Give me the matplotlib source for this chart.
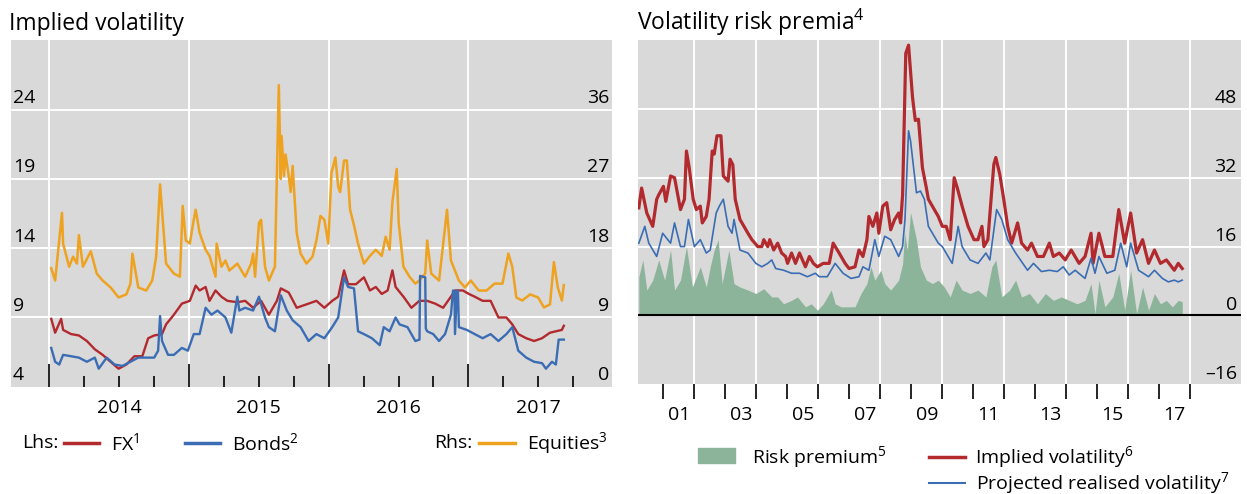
import numpy as np
import matplotlib.pyplot as plt
import matplotlib.transforms as mtransforms
from matplotlib.lines import Line2D
from matplotlib.patches import Rectangle

plt.rcParams['font.family'] = ['Open Sans', 'DejaVu Sans']
plt.rcParams['mathtext.default'] = 'regular'

# ---- left panel: implied volatility (decimal years) ----
eq_t = [2014.014, 2014.042, 2014.091, 2014.099, 2014.142, 2014.170, 2014.198, 2014.212, 2014.241,
        2014.297, 2014.340, 2014.382, 2014.439, 2014.496, 2014.552, 2014.581, 2014.595, 2014.637,
        2014.694, 2014.737, 2014.765, 2014.793, 2014.836, 2014.892, 2014.935, 2014.955, 2014.977,
        2015.006, 2015.034, 2015.048, 2015.076, 2015.119, 2015.147, 2015.190, 2015.198, 2015.232,
        2015.261, 2015.289, 2015.346, 2015.402, 2015.445, 2015.459, 2015.473, 2015.501, 2015.516,
        2015.544, 2015.572, 2015.615, 2015.643, 2015.657, 2015.663, 2015.680, 2015.691, 2015.714,
        2015.728, 2015.742, 2015.771, 2015.799, 2015.841, 2015.884, 2015.912, 2015.941, 2015.969,
        2015.997, 2016.020, 2016.048, 2016.068, 2016.082, 2016.110, 2016.130, 2016.153, 2016.181,
        2016.210, 2016.252, 2016.295, 2016.337, 2016.380, 2016.408, 2016.436, 2016.456, 2016.487,
        2016.501, 2016.535, 2016.578, 2016.620, 2016.649, 2016.691, 2016.705, 2016.734, 2016.790,
        2016.847, 2016.875, 2016.932, 2016.975, 2017.017, 2017.074, 2017.130, 2017.187, 2017.244,
        2017.286, 2017.314, 2017.343, 2017.385, 2017.442, 2017.499, 2017.541, 2017.584, 2017.612,
        2017.640, 2017.669, 2017.683]
eq_v = [15.4, 13.8, 22.6, 18.6, 15.6, 16.9, 16.0, 19.7, 15.6,
        17.6, 14.7, 13.8, 12.9, 11.6, 12.0, 13.4, 17.3, 12.9,
        12.5, 13.8, 16.9, 26.3, 16.0, 14.7, 14.3, 23.5, 19.0,
        18.6, 21.7, 23.0, 20.0, 17.8, 17.0, 14.3, 18.6, 15.6,
        16.4, 15.1, 16.0, 14.3, 16.0, 17.3, 14.3, 21.3, 21.7,
        15.6, 13.8, 15.6, 39.2, 27.0, 32.6, 27.4, 30.2, 27.4,
        25.3, 28.7, 20.0, 17.3, 16.0, 16.9, 19.0, 22.2, 21.7,
        18.6, 27.8, 29.8, 26.0, 25.3, 29.4, 29.4, 23.0, 21.0,
        18.6, 16.0, 17.0, 17.8, 17.0, 19.5, 17.8, 24.0, 28.3,
        21.3, 15.6, 14.3, 13.4, 13.8, 14.7, 19.0, 14.7, 13.8,
        23.0, 16.4, 13.8, 12.9, 13.8, 12.5, 12.5, 13.4, 13.4,
        17.3, 15.6, 11.6, 11.2, 12.0, 11.6, 10.3, 10.7, 16.2,
        12.9, 11.2, 13.2]

fx_t = [2014.014, 2014.042, 2014.085, 2014.099, 2014.156, 2014.212, 2014.269, 2014.326, 2014.382,
        2014.439, 2014.496, 2014.552, 2014.609, 2014.666, 2014.708, 2014.751, 2014.807, 2014.836,
        2014.892, 2014.949, 2015.006, 2015.048, 2015.076, 2015.119, 2015.147, 2015.190, 2015.232,
        2015.275, 2015.346, 2015.402, 2015.459, 2015.516, 2015.572, 2015.629, 2015.657, 2015.714,
        2015.771, 2015.856, 2015.912, 2015.969, 2016.025, 2016.068, 2016.110, 2016.139, 2016.195,
        2016.252, 2016.295, 2016.337, 2016.380, 2016.422, 2016.456, 2016.479, 2016.535, 2016.592,
        2016.649, 2016.705, 2016.762, 2016.819, 2016.875, 2016.904, 2016.960, 2017.003, 2017.045,
        2017.102, 2017.159, 2017.215, 2017.272, 2017.314, 2017.357, 2017.414, 2017.470, 2017.527,
        2017.584, 2017.626, 2017.669, 2017.683]
fx_v = [8.9, 7.9, 8.9, 8.1, 7.8, 7.7, 7.3, 6.7, 6.3,
        5.8, 5.3, 5.6, 6.2, 6.2, 7.5, 7.7, 7.8, 8.5,
        9.2, 10.0, 10.2, 11.3, 10.95, 11.2, 10.2, 10.95, 10.5,
        10.2, 10.1, 10.2, 9.7, 10.2, 9.2, 10.2, 11.1, 10.8,
        9.7, 10.0, 10.2, 9.7, 10.2, 10.5, 12.4, 11.4, 11.4,
        11.9, 10.95, 11.2, 10.7, 10.95, 12.4, 11.2, 10.5, 9.7,
        10.2, 10.2, 10.0, 9.7, 10.5, 10.95, 10.95, 10.7, 10.5,
        10.2, 10.2, 9.0, 9.0, 8.5, 7.8, 7.5, 7.3, 7.5,
        7.9, 8.0, 8.1, 8.4]

bd_t = [2014.014, 2014.042, 2014.071, 2014.099, 2014.156, 2014.212, 2014.269, 2014.326, 2014.354,
        2014.411, 2014.467, 2014.524, 2014.581, 2014.637, 2014.694, 2014.751, 2014.779, 2014.793,
        2014.807, 2014.850, 2014.892, 2014.949, 2014.992, 2015.034, 2015.076, 2015.119, 2015.161,
        2015.204, 2015.261, 2015.303, 2015.346, 2015.360, 2015.402, 2015.459, 2015.501, 2015.544,
        2015.572, 2015.615, 2015.657, 2015.700, 2015.742, 2015.799, 2015.856, 2015.912, 2015.969,
        2016.025, 2016.068, 2016.110, 2016.139, 2016.181, 2016.210, 2016.252, 2016.309, 2016.365,
        2016.394, 2016.436, 2016.479, 2016.507, 2016.564, 2016.620, 2016.650, 2016.654, 2016.691,
        2016.695, 2016.705, 2016.748, 2016.790, 2016.833, 2016.875, 2016.890, 2016.900, 2016.904,
        2016.918, 2016.925, 2016.932, 2016.989, 2017.045, 2017.102, 2017.159, 2017.215, 2017.272,
        2017.314, 2017.357, 2017.414, 2017.470, 2017.527, 2017.555, 2017.598, 2017.626, 2017.646,
        2017.683]
bd_v = [6.8, 5.8, 5.6, 6.3, 6.2, 6.1, 5.8, 6.1, 5.3,
        6.1, 5.6, 5.5, 5.8, 6.1, 6.1, 6.1, 6.6, 9.1,
        7.3, 6.3, 6.3, 6.8, 6.6, 7.8, 7.8, 9.7, 9.2,
        9.5, 9.0, 7.9, 10.5, 9.5, 9.7, 9.5, 10.5, 9.0,
        8.3, 8.0, 10.6, 9.5, 8.8, 8.3, 7.3, 7.8, 7.5,
        8.3, 9.0, 11.9, 11.2, 11.1, 8.0, 7.8, 7.5, 7.0,
        8.3, 8.0, 9.0, 8.5, 8.3, 7.3, 7.4, 12.0, 11.9,
        8.2, 8.0, 7.8, 7.3, 7.8, 9.2, 10.95, 10.9, 7.8,
        10.95, 10.9, 8.3, 8.1, 7.8, 7.5, 7.8, 7.3, 7.8,
        8.3, 6.6, 6.1, 5.8, 5.7, 5.3, 5.8, 5.6, 7.4,
        7.4]

# ---- right panel: volatility risk premia ----
iv_t = [2000.207, 2000.297, 2000.464, 2000.656, 2000.784, 2000.848, 2001.001, 2001.078, 2001.232,
        2001.360, 2001.552, 2001.680, 2001.744, 2001.834, 2001.962, 2002.064, 2002.192, 2002.256,
        2002.384, 2002.474, 2002.576, 2002.640, 2002.730, 2002.858, 2002.935, 2003.088, 2003.152,
        2003.242, 2003.319, 2003.472, 2003.600, 2003.729, 2003.857, 2004.049, 2004.177, 2004.241,
        2004.369, 2004.433, 2004.561, 2004.689, 2004.817, 2004.945, 2005.009, 2005.137, 2005.265,
        2005.393, 2005.585, 2005.713, 2005.841, 2005.969, 2006.161, 2006.353, 2006.481, 2006.673,
        2006.866, 2006.994, 2007.186, 2007.314, 2007.442, 2007.570, 2007.634, 2007.762, 2007.890,
        2007.954, 2008.082, 2008.210, 2008.338, 2008.466, 2008.594, 2008.658, 2008.722, 2008.824,
        2008.914, 2009.042, 2009.132, 2009.234, 2009.362, 2009.490, 2009.554, 2009.874, 2010.003,
        2010.131, 2010.259, 2010.387, 2010.489, 2010.643, 2010.835, 2011.027, 2011.155, 2011.283,
        2011.347, 2011.475, 2011.667, 2011.731, 2011.859, 2011.987, 2012.115, 2012.243, 2012.435,
        2012.563, 2012.755, 2012.883, 2013.075, 2013.268, 2013.460, 2013.588, 2013.780, 2013.972,
        2014.164, 2014.420, 2014.612, 2014.805, 2014.869, 2015.060, 2015.252, 2015.508, 2015.700,
        2015.892, 2016.084, 2016.276, 2016.469, 2016.661, 2016.853, 2017.045, 2017.237, 2017.493,
        2017.621, 2017.749]
iv_v = [25.0, 29.6, 23.8, 20.7, 27.0, 28.0, 30.0, 26.5, 32.4,
        32.0, 24.6, 27.0, 38.2, 34.3, 27.0, 24.6, 25.4, 21.5,
        23.0, 27.0, 38.2, 37.5, 41.75, 41.75, 32.4, 31.2, 36.3,
        35.0, 27.0, 22.3, 20.7, 19.1, 17.6, 16.0, 16.0, 17.6,
        16.0, 17.6, 15.2, 16.8, 14.5, 13.7, 12.1, 14.5, 12.1,
        14.5, 11.3, 13.7, 12.1, 11.3, 12.1, 12.1, 16.8, 14.5,
        12.1, 10.9, 11.3, 15.2, 13.7, 17.6, 23.0, 20.7, 23.8,
        19.1, 25.4, 26.2, 19.9, 22.3, 23.8, 21.5, 28.0, 60.9,
        62.8, 50.7, 45.3, 45.6, 34.3, 29.6, 27.0, 23.0, 20.7,
        20.7, 17.6, 32.0, 29.6, 25.4, 20.7, 17.6, 17.6, 20.7,
        16.0, 17.6, 35.1, 36.7, 32.8, 27.0, 20.7, 16.8, 21.5,
        16.8, 15.2, 16.8, 13.7, 13.7, 16.8, 13.7, 14.5, 12.9,
        15.2, 12.1, 13.7, 19.1, 12.1, 19.1, 13.7, 13.7, 24.6,
        16.8, 23.8, 14.5, 17.6, 12.1, 15.2, 12.1, 12.9, 10.5,
        12.1, 10.9]

rv_t = [2000.207, 2000.400, 2000.528, 2000.784, 2000.976, 2001.232, 2001.360, 2001.552, 2001.680,
        2001.808, 2002.000, 2002.192, 2002.384, 2002.512, 2002.704, 2002.807, 2002.935, 2003.088,
        2003.216, 2003.280, 2003.472, 2003.729, 2003.985, 2004.177, 2004.369, 2004.497, 2004.625,
        2004.881, 2005.137, 2005.393, 2005.649, 2005.905, 2006.033, 2006.289, 2006.545, 2006.801,
        2007.058, 2007.314, 2007.442, 2007.634, 2007.826, 2007.954, 2008.146, 2008.338, 2008.594,
        2008.722, 2008.799, 2008.914, 2008.978, 2009.170, 2009.298, 2009.426, 2009.554, 2009.874,
        2010.003, 2010.323, 2010.515, 2010.643, 2010.899, 2011.155, 2011.411, 2011.539, 2011.757,
        2011.923, 2012.115, 2012.371, 2012.755, 2012.948, 2013.203, 2013.460, 2013.716, 2013.908,
        2014.100, 2014.292, 2014.612, 2014.805, 2014.933, 2015.060, 2015.316, 2015.572, 2015.764,
        2015.956, 2016.084, 2016.340, 2016.661, 2016.853, 2017.109, 2017.301, 2017.493, 2017.621,
        2017.749]
rv_v = [16.8, 20.7, 16.8, 13.7, 19.1, 16.8, 21.5, 16.0, 16.0,
        22.3, 16.0, 17.6, 14.5, 15.2, 23.8, 25.4, 27.0, 20.7,
        19.1, 22.3, 15.2, 14.5, 12.1, 11.3, 12.1, 12.9, 10.9,
        10.5, 9.8, 9.8, 9.0, 9.8, 9.0, 9.0, 12.1, 9.8,
        8.6, 9.0, 11.3, 10.5, 17.6, 13.7, 18.4, 17.6, 13.7,
        16.0, 22.3, 42.9, 40.6, 28.5, 28.9, 27.0, 20.7, 16.8,
        16.0, 12.1, 20.7, 16.0, 12.9, 12.1, 14.5, 12.9, 24.6,
        22.3, 17.6, 14.5, 10.5, 12.1, 10.2, 10.5, 10.2, 11.3,
        9.4, 10.5, 8.6, 13.3, 9.8, 13.7, 9.8, 10.5, 16.8,
        11.3, 16.8, 10.5, 9.0, 10.5, 8.6, 7.8, 8.2, 7.8,
        8.2]

rp_t = [2000.207, 2000.336, 2000.464, 2000.656, 2000.848, 2001.040, 2001.232, 2001.360, 2001.552,
        2001.744, 2001.936, 2002.192, 2002.384, 2002.512, 2002.640, 2002.768, 2002.896, 2003.114,
        2003.280, 2003.472, 2003.729, 2003.985, 2004.241, 2004.497, 2004.689, 2004.881, 2005.137,
        2005.329, 2005.585, 2005.777, 2005.969, 2006.161, 2006.417, 2006.545, 2006.737, 2006.930,
        2007.186, 2007.378, 2007.570, 2007.698, 2007.826, 2008.018, 2008.146, 2008.338, 2008.594,
        2008.722, 2008.786, 2008.876, 2008.978, 2009.170, 2009.298, 2009.490, 2009.682, 2009.874,
        2010.067, 2010.259, 2010.451, 2010.643, 2010.899, 2011.155, 2011.411, 2011.603, 2011.731,
        2011.923, 2012.179, 2012.371, 2012.563, 2012.819, 2013.075, 2013.332, 2013.588, 2013.844,
        2014.100, 2014.356, 2014.612, 2014.805, 2014.933, 2015.060, 2015.252, 2015.508, 2015.700,
        2015.892, 2016.084, 2016.276, 2016.469, 2016.661, 2016.853, 2017.045, 2017.237, 2017.429,
        2017.621, 2017.749]
rp_v = [9.0, 12.9, 5.9, 8.2, 12.9, 8.2, 15.2, 5.9, 8.2,
        16.0, 6.6, 11.3, 6.6, 11.3, 15.2, 17.6, 7.4, 15.2,
        7.4, 6.6, 5.9, 5.1, 6.2, 4.3, 4.3, 2.7, 3.5,
        4.3, 2.0, 2.7, 1.2, 2.7, 5.9, 2.7, 2.0, 2.0,
        2.0, 5.1, 7.4, 11.3, 8.2, 10.5, 7.4, 5.9, 8.2,
        12.0, 19.1, 15.2, 24.0, 17.6, 11.3, 8.2, 7.4, 8.2,
        6.6, 4.3, 8.2, 5.9, 5.1, 5.9, 4.3, 11.3, 12.9,
        4.3, 5.9, 8.2, 4.3, 5.1, 2.7, 5.1, 3.5, 4.3,
        3.5, 2.7, 3.5, 7.4, 0.4, 8.2, 2.0, 4.3, 9.8,
        1.2, 10.5, 0.4, 6.6, 1.2, 5.1, 2.7, 3.5, 2.0,
        3.5, 3.2]

BG = '#d9d9d9'
RED = '#b2292e'
BLUE = '#3b6db4'
ORANGE = '#eea21f'
GREEN = '#8cb49a'
FS = 14

fig = plt.figure(figsize=(12.47, 4.94), dpi=100)


def fx_(px):
    return px / 1247.0


def fy_(py):
    return 1 - py / 494.0


# ================= left panel =================
axb = fig.add_axes([fx_(11), fy_(386.7), fx_(612.3 - 11), (386.7 - 40.5) / 494.0])
ax1 = axb.twinx()
axb.set_zorder(1)
ax1.set_zorder(2)
ax1.patch.set_visible(False)
axb.set_facecolor(BG)

axb.set_xlim(2013.726, 2018.03)
axb.set_ylim(0, 45)
ax1.set_ylim(4, 29)

for s in list(axb.spines.values()) + list(ax1.spines.values()):
    s.set_visible(False)

for v in [9, 18, 27, 36]:
    axb.axhline(v, color='white', lw=1.4, zorder=0)
for yr in [2014, 2015, 2016, 2017]:
    axb.axvline(yr, color='white', lw=1.4, zorder=0)

axb.plot(eq_t, eq_v, color=ORANGE, lw=1.8, zorder=2)
ax1.plot(fx_t, fx_v, color=RED, lw=1.7, zorder=3)
ax1.plot(bd_t, bd_v, color=BLUE, lw=1.7, zorder=4)

axb.set_xticks([2014, 2015, 2016, 2017])
axb.set_xticks([y + q for y in [2014, 2015, 2016, 2017] for q in (0.25, 0.5, 0.75)], minor=True)
axb.tick_params(axis='x', which='major', direction='in', length=16.5, width=1.2,
                color='black', labelbottom=False)
axb.tick_params(axis='x', which='minor', direction='in', length=8, width=1.2, color='black')
axb.tick_params(axis='y', left=False, labelleft=False)
ax1.tick_params(axis='y', right=False, labelright=False)

trb = mtransforms.blended_transform_factory(axb.transAxes, axb.transData)
tr1 = mtransforms.blended_transform_factory(ax1.transAxes, ax1.transData)
for v in [4, 9, 14, 19, 24]:
    ax1.annotate(str(v), xy=(0.003, v), xycoords=tr1, xytext=(0, 4.8),
                 textcoords='offset points', ha='left', va='baseline', fontsize=FS)
for v in [0, 9, 18, 27, 36]:
    axb.annotate(str(v), xy=(0.995, v), xycoords=trb, xytext=(0, 4.8),
                 textcoords='offset points', ha='right', va='baseline', fontsize=FS)

trx = mtransforms.blended_transform_factory(axb.transData, axb.transAxes)
for yr in [2014, 2015, 2016, 2017]:
    axb.annotate(str(yr), xy=(yr + 0.5, 0), xycoords=trx, xytext=(0, -19.2),
                 textcoords='offset points', ha='center', va='baseline', fontsize=FS)

fig.text(fx_(9), fy_(30), 'Implied volatility', fontsize=16.5, va='baseline', ha='left')

# legend (left)
ly = fy_(443)
fig.text(fx_(22), ly, 'Lhs:', fontsize=FS, va='center')
fig.add_artist(Line2D([fx_(64), fx_(99)], [ly, ly], color=RED, lw=2.5))
fig.text(fx_(111), ly, 'FX$^1$', fontsize=FS, va='center')
fig.add_artist(Line2D([fx_(185), fx_(220)], [ly, ly], color=BLUE, lw=2.5))
fig.text(fx_(232), ly, 'Bonds$^2$', fontsize=FS, va='center')
fig.text(fx_(434), ly, 'Rhs:', fontsize=FS, va='center')
fig.add_artist(Line2D([fx_(479), fx_(515)], [ly, ly], color=ORANGE, lw=2.5))
fig.text(fx_(527), ly, 'Equities$^3$', fontsize=FS, va='center')

# ================= right panel =================
ax2 = fig.add_axes([fx_(638.3), fy_(384.3), fx_(1240.5 - 638.3), (384.3 - 40) / 494.0])
ax2.set_facecolor(BG)
ax2.set_xlim(2000.19, 2019.63)
ax2.set_ylim(-16, 64)
for s in ax2.spines.values():
    s.set_visible(False)

for v in [16, 32, 48]:
    ax2.axhline(v, color='white', lw=1.4, zorder=0)
for yr in range(2002, 2019, 2):
    ax2.axvline(yr, color='white', lw=1.4, zorder=0)

ax2.fill_between(rp_t, 0, rp_v, color=GREEN, lw=0, zorder=1)
ax2.axhline(0, color='black', lw=1.5, zorder=2)
ax2.plot(iv_t, iv_v, color=RED, lw=2.3, zorder=3)
ax2.plot(rv_t, rv_v, color=BLUE, lw=1.2, zorder=4)

ax2.set_xticks(list(range(2001, 2019)))
ax2.tick_params(axis='x', direction='out', length=10.5, width=1.2, color='black',
                labelbottom=False)
ax2.tick_params(axis='y', left=False, labelleft=False)

tr2 = mtransforms.blended_transform_factory(ax2.transAxes, ax2.transData)
for v in [-16, 0, 16, 32, 48]:
    lab = str(v).replace('-', '\u2013')
    ax2.annotate(lab, xy=(0.994, v), xycoords=tr2, xytext=(0, 4.0),
                 textcoords='offset points', ha='right', va='baseline', fontsize=FS)

trx2 = mtransforms.blended_transform_factory(ax2.transData, ax2.transAxes)
for yr in range(2001, 2018, 2):
    ax2.annotate('%02d' % (yr % 100), xy=(yr + 0.5, 0), xycoords=trx2, xytext=(0, -25.7),
                 textcoords='offset points', ha='center', va='baseline', fontsize=FS)

fig.text(fx_(637), fy_(30), 'Volatility risk premia$^4$', fontsize=16.5, va='baseline', ha='left')

# legend (right)
fig.add_artist(Rectangle((fx_(698), fy_(463)), fx_(37), 15 / 494.0, color=GREEN,
                         transform=fig.transFigure))
fig.text(fx_(752), fy_(457), 'Risk premium$^5$', fontsize=FS, va='center')
fig.add_artist(Line2D([fx_(929), fx_(965)], [fy_(457), fy_(457)], color=RED, lw=2.5))
fig.text(fx_(975), fy_(457), 'Implied volatility$^6$', fontsize=FS, va='center')
fig.add_artist(Line2D([fx_(929), fx_(965)], [fy_(483), fy_(483)], color=BLUE, lw=1.5))
fig.text(fx_(976), fy_(483), 'Projected realised volatility$^7$', fontsize=FS, va='center')

fig.savefig('out.png', dpi=100)
